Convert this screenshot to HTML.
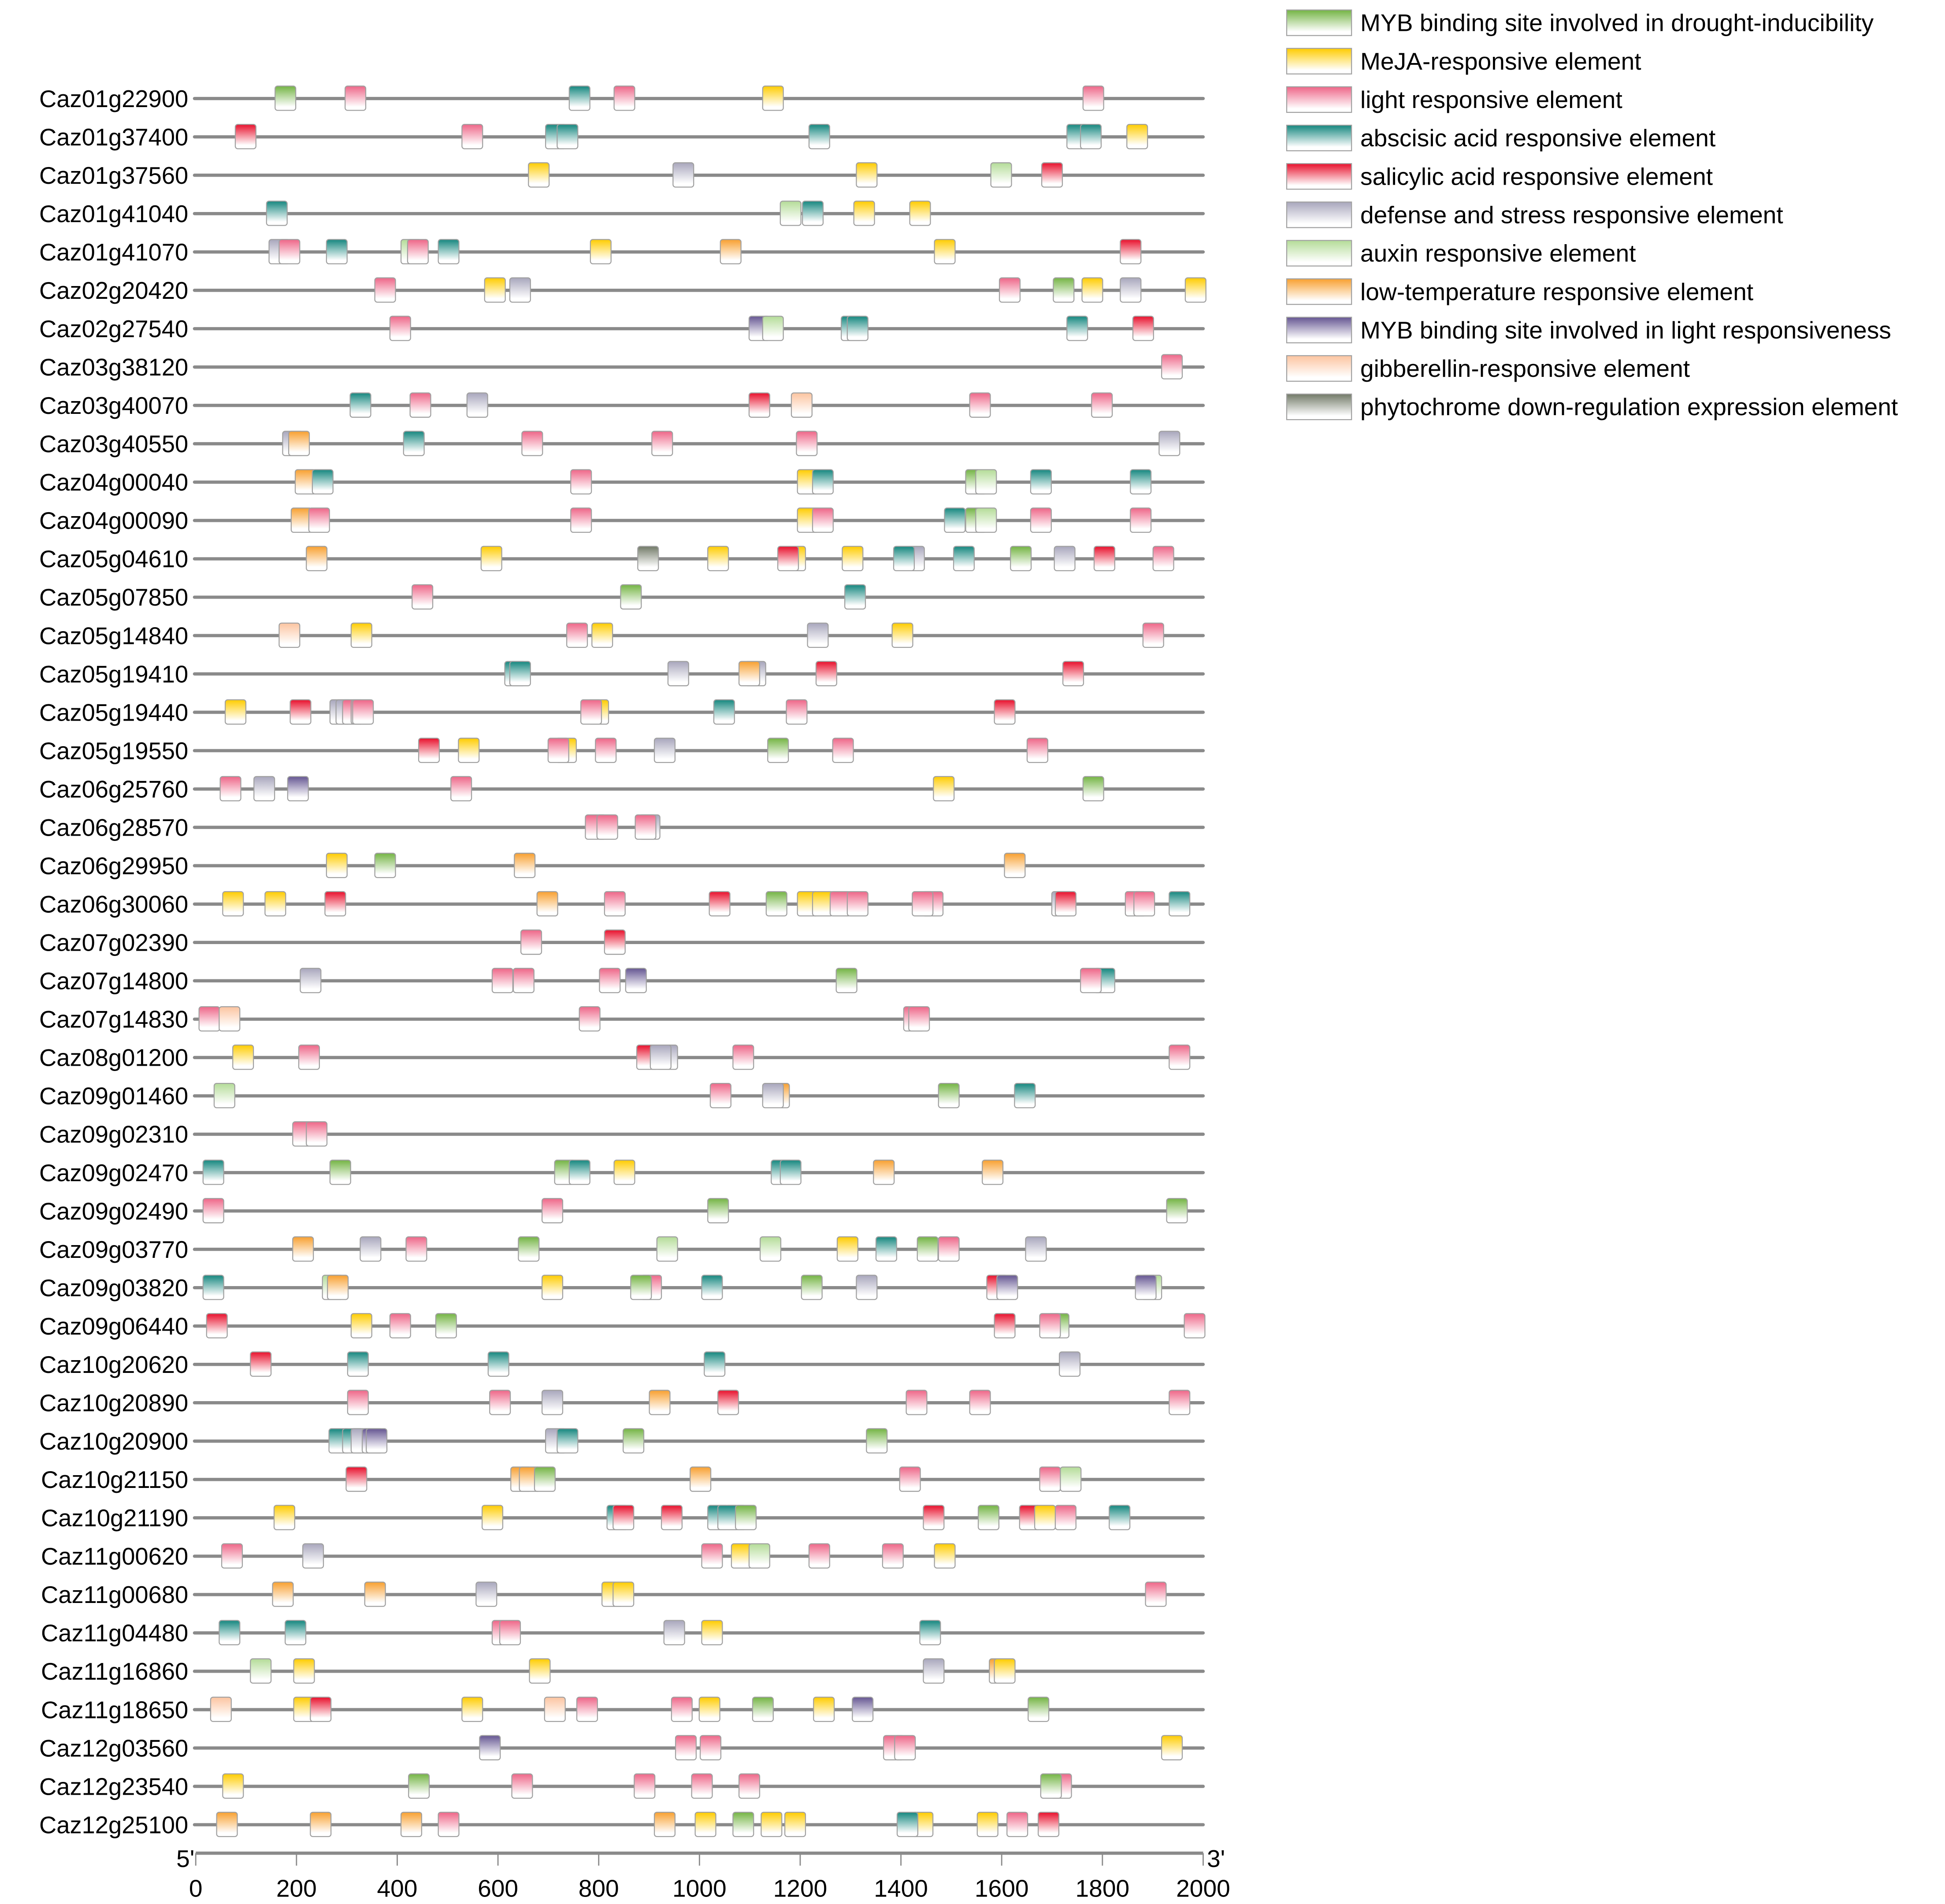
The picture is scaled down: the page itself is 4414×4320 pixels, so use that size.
<!DOCTYPE html>
<html><head><meta charset="utf-8"><style>
html,body{margin:0;padding:0;background:#fff;}
svg{display:block;font-family:"Liberation Sans",sans-serif;}
</style></head><body>
<svg id="chart" width="4414" height="4320" viewBox="0 0 4414 4320" xmlns="http://www.w3.org/2000/svg">
<defs id="defs"></defs>
<g id="root" transform="scale(2.8295)"></g>
</svg>
<script>
const genes = ["Caz01g22900","Caz01g37400","Caz01g37560","Caz01g41040","Caz01g41070","Caz02g20420","Caz02g27540","Caz03g38120","Caz03g40070","Caz03g40550","Caz04g00040","Caz04g00090","Caz05g04610","Caz05g07850","Caz05g14840","Caz05g19410","Caz05g19440","Caz05g19550","Caz06g25760","Caz06g28570","Caz06g29950","Caz06g30060","Caz07g02390","Caz07g14800","Caz07g14830","Caz08g01200","Caz09g01460","Caz09g02310","Caz09g02470","Caz09g02490","Caz09g03770","Caz09g03820","Caz09g06440","Caz10g20620","Caz10g20890","Caz10g20900","Caz10g21150","Caz10g21190","Caz11g00620","Caz11g00680","Caz11g04480","Caz11g16860","Caz11g18650","Caz12g03560","Caz12g23540","Caz12g25100"];
const elementTypes = ["G","Y","P","T","R","D","A","O","V","B","H"];
const legendLabels = ["MYB binding site involved in drought-inducibility","MeJA-responsive element","light responsive element","abscisic acid responsive element","salicylic acid responsive element","defense and stress responsive element","auxin responsive element","low-temperature responsive element","MYB binding site involved in light responsiveness","gibberellin-responsive element","phytochrome down-regulation  expression element"];
const typeColors = ["#74b444","#ffcc00","#ee6688","#15877f","#e8102c","#a8a6bc","#b4dc98","#f8a030","#655692","#fcc4a0","#727a68"];
const xTicks = [0,200,400,600,800,1000,1200,1400,1600,1800,2000];
// element positions (bp) per gene: "type:position"
const elements = [
"G:178 P:317 T:762 P:851 Y:1146 P:1782",
"R:99 P:549 T:715 T:738 T:1238 T:1750 T:1777 Y:1869",
"Y:681 D:968 Y:1332 A:1599 R:1700",
"T:161 A:1181 T:1225 Y:1327 Y:1438",
"D:166 P:186 T:280 A:428 P:441 T:502 Y:804 O:1062 Y:1487 R:1856",
"P:376 Y:594 D:644 P:1616 G:1723 Y:1780 D:1856 Y:1985",
"P:406 V:1119 A:1146 T:1302 T:1314 T:1750 R:1881",
"P:1938",
"T:327 P:446 D:559 R:1119 B:1203 P:1557 P:1799",
"D:193 O:205 T:433 P:668 P:926 P:1213 D:1933",
"O:218 T:252 P:765 Y:1215 T:1245 G:1549 A:1569 T:1678 T:1876",
"O:210 P:245 P:765 Y:1215 P:1245 T:1507 G:1549 A:1569 P:1678 P:1876",
"O:240 Y:587 H:898 Y:1037 Y:1190 R:1176 Y:1304 D:1426 T:1406 T:1525 G:1638 D:1725 R:1804 P:1921",
"P:450 G:864 T:1309",
"B:186 Y:329 P:757 Y:807 D:1235 Y:1403 P:1901",
"T:634 T:644 D:958 D:1111 O:1099 R:1252 R:1742",
"Y:79 R:208 D:287 D:299 P:312 P:329 P:332 Y:799 P:785 T:1049 P:1193 R:1606",
"R:463 Y:542 Y:735 P:720 P:814 D:931 G:1156 P:1285 P:1671",
"P:69 D:136 V:203 P:527 Y:1485 G:1782",
"P:794 P:817 D:901 P:893",
"Y:280 G:376 O:653 O:1626",
"Y:74 Y:158 R:277 O:698 P:832 R:1040 G:1153 Y:1215 Y:1245 P:1280 P:1314 P:1463 P:1443 D:1720 R:1727 P:1866 P:1883 T:1953",
"P:666 R:832",
"D:228 P:609 P:651 P:822 V:874 G:1292 T:1804 P:1777",
"P:27 B:67 P:782 P:1426 P:1436",
"Y:94 P:225 R:896 D:936 D:923 P:1087 P:1953",
"A:57 P:1042 O:1158 D:1146 G:1495 T:1646",
"P:213 P:240",
"T:35 G:287 G:733 T:762 Y:851 T:1163 T:1181 O:1366 O:1582",
"P:35 P:708 G:1037 G:1948",
"O:213 D:347 P:438 G:661 A:936 A:1141 Y:1294 T:1371 G:1453 P:1495 D:1668",
"T:35 A:272 O:282 Y:708 P:904 G:884 T:1025 G:1223 D:1332 R:1591 V:1611 A:1897 V:1886",
"R:42 Y:329 P:406 G:497 R:1606 G:1713 P:1696 P:1983",
"R:129 T:322 T:601 T:1030 D:1735",
"P:322 P:604 D:708 O:921 R:1057 P:1431 P:1557 P:1953",
"T:285 T:312 D:329 V:351 V:359 D:715 T:738 G:869 G:1352",
"R:319 O:646 O:663 G:693 O:1002 P:1418 A:1737 P:1696",
"Y:176 Y:589 T:837 R:849 R:945 T:1037 T:1072 T:1057 G:1092 R:1465 G:1574 R:1656 Y:1686 P:1727 T:1834",
"P:72 D:233 P:1025 Y:1084 A:1119 P:1238 P:1384 Y:1487",
"O:173 O:356 D:577 Y:827 Y:849 P:1906",
"T:67 T:198 P:609 P:624 D:950 Y:1025 T:1458",
"A:129 Y:215 Y:683 D:1465 O:1596 Y:1606",
"B:50 Y:215 R:248 Y:549 B:713 P:777 P:965 Y:1020 G:1126 Y:1247 V:1324 G:1673",
"V:584 P:973 P:1022 P:1386 P:1408 Y:1938",
"Y:74 G:443 P:648 P:891 P:1005 P:1099 P:1718 G:1698",
"O:62 O:248 O:428 P:502 O:931 Y:1012 G:1087 Y:1143 Y:1190 Y:1443 T:1413 Y:1572 P:1631 R:1693"
];

const NS="http://www.w3.org/2000/svg";
const root=document.getElementById('root');
const defs=document.getElementById('defs');
const X0=157, X1=965, MAXBP=2000;
const xScale=bp=>X0+(bp/MAXBP)*(X1-X0);
const rowY=i=>79+i*30.76;
function mk(tag,attrs,parent){const e=document.createElementNS(NS,tag);for(const k in attrs)e.setAttribute(k,attrs[k]);(parent||root).appendChild(e);return e;}
elementTypes.forEach((t,i)=>{
  const g=mk('linearGradient',{id:'grad'+t,x1:0,y1:0,x2:0,y2:1},defs);
  mk('stop',{offset:'0',"stop-color":typeColors[i]},g);
  mk('stop',{offset:'0.85',"stop-color":'#ffffff'},g);
  mk('stop',{offset:'1',"stop-color":'#ffffff'},g);
});
const BW=(41/MAXBP)*(X1-X0);
genes.forEach((name,i)=>{
  const y=rowY(i);
  const grp=mk('g',{});
  
  
  const lab=mk('text',{x:151,y:y+6.8,"text-anchor":'end',"font-size":19.2,fill:'#000'},grp);
  lab.textContent=name;
  
  
  const ln=mk('line',{x1:X0-1,x2:X1,y1:y,y2:y,stroke:'#8a8a8a',"stroke-width":2.6,"stroke-linecap":'round'},grp);
  
  
  elements[i].split(' ').forEach(tok=>{
    const [t,p]=tok.split(':');const bp=+p;
    const cx=xScale(bp);
    const r=mk('rect',{x:cx-BW/2,y:y-10,width:BW,height:19.5,rx:2,fill:'url(#grad'+t+')',stroke:'#a0a0a0',"stroke-width":0.8},grp);
    
    
  });
});
// axis
const ax=mk('g',{});


mk('line',{x1:X0,x2:X1,y1:1486,y2:1486,stroke:'#8a8a8a',"stroke-width":2.6},ax);
xTicks.forEach(v=>{
  const x=xScale(v);
  const tk=mk('line',{x1:x,x2:x,y1:1486,y2:1496,stroke:'#8a8a8a',"stroke-width":1},ax);
  
  
  const tl=mk('text',{x:x,y:1521,"text-anchor":'middle',"font-size":19.5,fill:'#000'},ax);
  tl.textContent=v;
  
  
});
const t5=mk('text',{x:156,y:1497,"text-anchor":'end',"font-size":19.5},ax);t5.textContent="5'";


const t3=mk('text',{x:968,y:1497,"font-size":19.5},ax);t3.textContent="3'";


// legend
const lg=mk('g',{});


legendLabels.forEach((l,i)=>{
  const y=8+i*30.8;
  const e=mk('g',{},lg);
  
  
  mk('rect',{x:1032,y:y,width:52,height:20.5,fill:'url(#grad'+elementTypes[i]+')',stroke:'#a0a0a0',"stroke-width":0.8},e);
  const tx=mk('text',{x:1091,y:y+17,"font-size":19.5,fill:'#000'},e);
  tx.textContent=l;
});
</script>
</body></html>
